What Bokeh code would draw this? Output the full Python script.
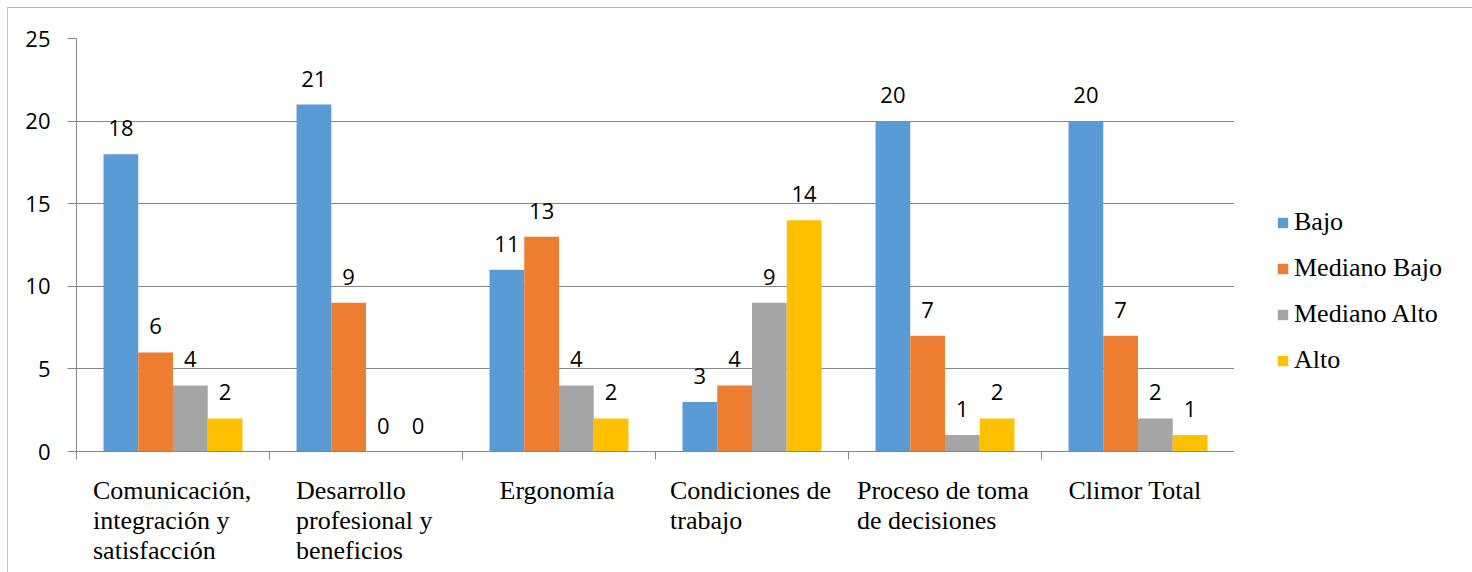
from bokeh.plotting import figure
from bokeh.layouts import column, row
from bokeh.models import (Range1d, FixedTicker, Legend, LegendItem,
                          ColumnDataSource)
from bokeh.transform import dodge
from bokeh.core.properties import value
from bokeh.embed import file_html
from bokeh.resources import INLINE

# ---------------- data ----------------
category_lines = [
    ["Comunicación,", "integración y", "satisfacción"],
    ["Desarrollo", "profesional y", "beneficios"],
    ["Ergonomía"],
    ["Condiciones de", "trabajo"],
    ["Proceso de toma", "de decisiones"],
    ["Climor Total"],
]
series_names = ["Bajo", "Mediano Bajo", "Mediano Alto", "Alto"]
bajo = [18, 21, 11, 3, 20, 20]
mediano_bajo = [6, 9, 13, 4, 7, 7]
mediano_alto = [4, 0, 4, 9, 1, 2]
alto = [2, 0, 2, 14, 2, 1]
y_ticks = [0, 5, 10, 15, 20, 25]

# ---------------- style ----------------
colors = ["#5B9BD5", "#ED7D31", "#A5A5A5", "#FFC000"]
axis_gray = "#868686"
bar_w = 0.18
label_block_px = [160, 140, 119, 164, 176, 139]  # widest line of each wrapped label
serif = "Liberation Serif"
sans = "Open Sans"

W_MAIN = 1226
W_LEG = 238
H1 = 457
H2 = 107
MB_L = 68

n = len(category_lines)
src = {"x": [i + 0.5 for i in range(n)]}
series_vals = [bajo, mediano_bajo, mediano_alto, alto]
keys = ["s0", "s1", "s2", "s3"]
for k, vals in zip(keys, series_vals):
    src[k] = vals
    src[k + "_t"] = [str(v) for v in vals]
source = ColumnDataSource(src)

x_range = Range1d(0, n)
p = figure(width=W_MAIN, height=H1, output_backend="svg", toolbar_location=None,
           x_range=x_range, y_range=Range1d(0, 25),
           min_border_left=MB_L, min_border_right=0,
           min_border_top=30, min_border_bottom=14)
p.outline_line_color = None
p.background_fill_color = "white"
p.border_fill_color = "white"

offsets = [(-1.5 + i) * bar_w for i in range(4)]
for k, name, c, off in zip(keys, series_names, colors, offsets):
    p.vbar(x=dodge("x", off, range=x_range), top=k, width=bar_w,
           bottom=0, fill_color=c, line_color=None, source=source)
    p.text(x=dodge("x", off, range=x_range), y=k, text=k + "_t",
           source=source, text_align="center", text_baseline="middle",
           y_offset=-26, text_font=value(sans), text_font_size="22px",
           text_color="#000000")

# axes
p.yaxis.ticker = FixedTicker(ticks=y_ticks)
p.yaxis.axis_line_color = axis_gray
p.yaxis.major_tick_line_color = axis_gray
p.yaxis.major_tick_out = 9
p.yaxis.major_tick_in = 0
p.yaxis.minor_tick_line_color = None
p.yaxis.major_label_standoff = 17
p.yaxis.major_label_text_font = sans
p.yaxis.major_label_text_font_size = "22px"
p.yaxis.major_label_text_color = "#000000"

bounds = list(range(n + 1))
p.xaxis.ticker = FixedTicker(ticks=bounds)
p.xaxis.major_label_overrides = {b: "" for b in bounds}
p.xaxis.axis_line_color = axis_gray
p.xaxis.major_tick_line_color = axis_gray
p.xaxis.major_tick_out = 8
p.xaxis.major_tick_in = 0
p.xaxis.minor_tick_line_color = None
p.xaxis.major_label_standoff = 0

p.xgrid.grid_line_color = None
p.ygrid.grid_line_color = axis_gray
p.ygrid.ticker = FixedTicker(ticks=y_ticks)

# category labels: a strip below sharing the x scale
lab_x, lab_y, lab_t, lab_dx, lab_dy = [], [], [], [], []
for i, lines in enumerate(category_lines):
    for j, line in enumerate(lines):
        lab_x.append(i + 0.5)
        lab_y.append(0)
        lab_t.append(line)
        lab_dx.append(-label_block_px[i] / 2)
        lab_dy.append(25 + 30 * j)
lab_src = ColumnDataSource(dict(x=lab_x, y=lab_y, t=lab_t, dx=lab_dx, dy=lab_dy))

p2 = figure(width=W_MAIN, height=H2, output_backend="svg", toolbar_location=None,
            x_range=x_range, y_range=Range1d(-1, 0),
            min_border_left=MB_L, min_border_right=0,
            min_border_top=0, min_border_bottom=0,
            x_axis_type=None, y_axis_type=None)
p2.outline_line_color = None
p2.grid.visible = False
p2.background_fill_color = "white"
p2.border_fill_color = "white"
p2.text(x="x", y="y", text="t", x_offset="dx", y_offset="dy", source=lab_src,
        text_align="left", text_baseline="alphabetic",
        text_font=value(serif), text_font_size="26px", text_color="#000000")

# legend panel on the right: proxy bars share the data but are muted to
# full transparency (and lie outside the visible range); only swatches show
p3 = figure(width=W_LEG, height=H1 + H2, output_backend="svg", toolbar_location=None,
            x_range=Range1d(0, n), y_range=Range1d(-2, -1),
            min_border_left=0, min_border_right=0,
            min_border_top=0, min_border_bottom=0,
            x_axis_type=None, y_axis_type=None)
p3.outline_line_color = None
p3.grid.visible = False
p3.background_fill_color = "white"
p3.border_fill_color = "white"
items = []
for k, name, c in zip(keys, series_names, colors):
    r = p3.vbar(x="x", top=k, bottom=0, width=bar_w, fill_color=c,
                line_color=None, source=source,
                muted_fill_alpha=0, muted_line_alpha=0)
    r.muted = True
    items.append(LegendItem(label=name, renderers=[r]))
legend = Legend(items=items, location=(42, 197), orientation="vertical",
                glyph_width=13, glyph_height=13, label_height=30,
                spacing=16, padding=0, margin=0, label_standoff=5,
                label_text_font=serif, label_text_font_size="26px",
                label_text_color="#000000", click_policy="none",
                border_line_color=None, background_fill_alpha=0)
p3.add_layout(legend, "center")

lay = row(column(p, p2, spacing=0), p3, spacing=0)
lay.styles = {"margin-left": "7px", "margin-top": "7px",
              "border-top": "1px solid #b4b4b4", "border-left": "1px solid #c4c4c4"}

open("out.html", "w").write(file_html(lay, INLINE))
